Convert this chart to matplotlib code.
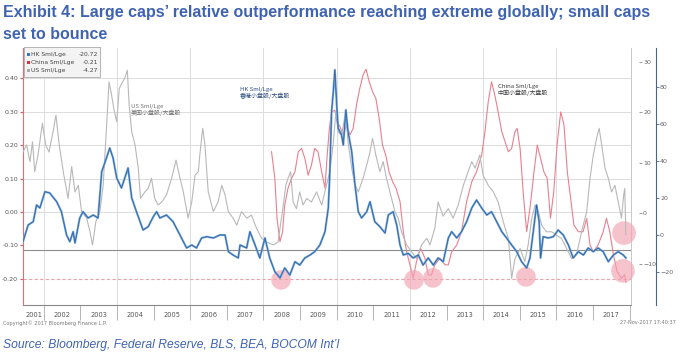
import matplotlib
matplotlib.use("Agg")
import matplotlib.pyplot as plt
from matplotlib.patches import Rectangle
from matplotlib.ticker import FormatStrFormatter

# HK small/large (right outer axis)
hk_t = [2001.43, 2001.57, 2001.71, 2001.80, 2001.89, 2002.03, 2002.16, 2002.25, 2002.35, 2002.48,
        2002.62, 2002.71, 2002.80, 2002.85, 2002.98, 2003.07, 2003.21, 2003.35, 2003.48, 2003.58,
        2003.71, 2003.80, 2003.89, 2003.99, 2004.12, 2004.21, 2004.30, 2004.40, 2004.53, 2004.71,
        2004.85, 2004.99, 2005.08, 2005.17, 2005.35, 2005.53, 2005.67, 2005.81, 2005.90, 2006.04,
        2006.17, 2006.31, 2006.45, 2006.63, 2006.81, 2006.95, 2007.04, 2007.17, 2007.31, 2007.36,
        2007.54, 2007.63, 2007.77, 2007.90, 2008.04, 2008.17, 2008.31, 2008.45, 2008.58, 2008.72,
        2008.86, 2008.99, 2009.13, 2009.27, 2009.40, 2009.54, 2009.68, 2009.77, 2009.81, 2009.86,
        2009.90, 2009.95, 2010.00, 2010.04, 2010.13, 2010.18, 2010.25, 2010.31, 2010.41, 2010.50,
        2010.59, 2010.68, 2010.82, 2010.91, 2011.04, 2011.18, 2011.32, 2011.41, 2011.54, 2011.64,
        2011.73, 2011.82, 2011.95, 2012.09, 2012.23, 2012.36, 2012.50, 2012.64, 2012.77, 2012.91,
        2013.05, 2013.14, 2013.28, 2013.41, 2013.55, 2013.69, 2013.82, 2013.96, 2014.10, 2014.23,
        2014.37, 2014.51, 2014.64, 2014.78, 2014.92, 2015.05, 2015.19, 2015.28, 2015.37, 2015.46,
        2015.53, 2015.57, 2015.64, 2015.78, 2015.92, 2016.05, 2016.19, 2016.33, 2016.46, 2016.60,
        2016.74, 2016.87, 2017.01, 2017.14, 2017.28, 2017.42, 2017.56, 2017.69, 2017.83, 2017.90]
hk_v = [-3.6, 5.4, 7.2, 16.2, 14.6, 23.4, 22.7, 20.5, 18.0, 12.6,
        0.0, -3.6, 1.8, -4.3, 9.2, 12.6, 9.2, 10.8, 9.2, 34.2,
        41.6, 47.0, 41.6, 30.8, 25.4, 30.8, 36.2, 20.0, 12.6, 2.7,
        4.5, 9.9, 12.6, 9.2, 10.8, 7.2, 1.8, -3.6, -7.0, -5.4,
        -7.0, -1.6, -0.9, -1.6, 0.0, 0.0, -9.0, -10.8, -12.4, -5.4,
        -7.0, 1.8, -5.4, -12.4, -1.6, -12.4, -19.8, -23.2, -17.8, -21.6,
        -14.4, -16.2, -12.4, -10.8, -9.0, -5.4, 1.8, 14.6, 32.4, 66.6,
        75.7, 89.2, 70.3, 57.7, 54.1, 48.6, 67.6, 55.8, 45.0, 27.0,
        12.6, 9.2, 12.6, 18.0, 7.2, 4.5, 1.1, 10.8, 12.6, 5.4,
        -5.4, -10.8, -9.9, -12.4, -10.8, -16.2, -12.4, -16.2, -12.4, -14.4,
        -1.6, 1.8, -1.6, 1.8, 7.2, 14.6, 18.9, 14.6, 10.8, 12.6,
        7.2, 1.8, -1.6, -5.4, -9.0, -14.4, -17.8, -12.4, 1.8, 16.2,
        7.2, -12.4, -0.9, -1.6, -0.9, 2.7, 0.0, -5.4, -12.4, -9.0,
        -10.8, -7.0, -9.0, -7.0, -9.0, -14.4, -10.8, -9.0, -10.8, -12.4]

# China small/large (left axis)
cn_t = [2008.22, 2008.31, 2008.37, 2008.45, 2008.52, 2008.58, 2008.67, 2008.77, 2008.86, 2008.95,
        2009.04, 2009.13, 2009.22, 2009.31, 2009.40, 2009.49, 2009.59, 2009.68, 2009.74, 2009.80,
        2009.86, 2009.95, 2010.01, 2010.09, 2010.18, 2010.27, 2010.36, 2010.45, 2010.54, 2010.63,
        2010.72, 2010.80, 2010.89, 2010.98, 2011.07, 2011.16, 2011.25, 2011.34, 2011.43, 2011.53,
        2011.62, 2011.73, 2011.82, 2011.91, 2012.00, 2012.09, 2012.18, 2012.29, 2012.41, 2012.50,
        2012.59, 2012.68, 2012.82, 2012.96, 2013.05, 2013.14, 2013.28, 2013.41, 2013.55, 2013.69,
        2013.82, 2013.96, 2014.05, 2014.14, 2014.23, 2014.32, 2014.41, 2014.51, 2014.60, 2014.69,
        2014.78, 2014.87, 2014.93, 2015.01, 2015.10, 2015.19, 2015.28, 2015.39, 2015.48, 2015.57,
        2015.66, 2015.75, 2015.84, 2015.93, 2016.02, 2016.12, 2016.21, 2016.30, 2016.39, 2016.48,
        2016.60, 2016.73, 2016.83, 2016.92, 2017.01, 2017.14, 2017.28, 2017.37, 2017.46, 2017.56,
        2017.66, 2017.78, 2017.87, 2017.90]
cn_v = [0.180, 0.101, -0.019, -0.089, -0.059, 0.021, 0.071, 0.101, 0.120, 0.180,
        0.190, 0.160, 0.110, 0.140, 0.190, 0.180, 0.120, 0.071, 0.170, 0.250,
        0.299, 0.304, 0.270, 0.255, 0.230, 0.260, 0.230, 0.250, 0.319, 0.369,
        0.409, 0.427, 0.389, 0.359, 0.339, 0.280, 0.200, 0.170, 0.120, 0.090,
        0.071, 0.031, -0.059, -0.119, -0.158, -0.198, -0.148, -0.108, -0.138, -0.188,
        -0.188, -0.158, -0.138, -0.158, -0.158, -0.119, -0.099, -0.059, 0.031, 0.090,
        0.120, 0.170, 0.240, 0.329, 0.389, 0.349, 0.299, 0.240, 0.210, 0.180,
        0.190, 0.240, 0.250, 0.190, 0.051, -0.059, 0.011, 0.120, 0.200, 0.160,
        0.120, 0.101, -0.019, 0.061, 0.200, 0.299, 0.260, 0.120, 0.041, -0.039,
        -0.059, -0.059, -0.019, -0.099, -0.119, -0.099, -0.059, -0.019, -0.059, -0.128,
        -0.178, -0.198, -0.188, -0.210]

# US small/large (right inner axis)
us_t = [2001.43, 2001.53, 2001.62, 2001.69, 2001.75, 2001.84, 2001.96, 2002.05, 2002.14, 2002.25,
        2002.33, 2002.42, 2002.53, 2002.66, 2002.76, 2002.85, 2002.94, 2003.03, 2003.17, 2003.26,
        2003.33, 2003.42, 2003.53, 2003.62, 2003.71, 2003.78, 2003.85, 2003.91, 2003.99, 2004.06,
        2004.15, 2004.21, 2004.28, 2004.33, 2004.40, 2004.49, 2004.58, 2004.64, 2004.76, 2004.85,
        2004.94, 2005.03, 2005.12, 2005.22, 2005.35, 2005.49, 2005.61, 2005.72, 2005.81, 2005.94,
        2006.04, 2006.13, 2006.22, 2006.26, 2006.34, 2006.40, 2006.49, 2006.63, 2006.76, 2006.86,
        2006.95, 2007.04, 2007.17, 2007.27, 2007.40, 2007.54, 2007.67, 2007.81, 2007.95, 2008.08,
        2008.27, 2008.40, 2008.54, 2008.61, 2008.67, 2008.74, 2008.81, 2008.90, 2008.99, 2009.08,
        2009.18, 2009.31, 2009.45, 2009.59, 2009.72, 2009.81, 2009.90, 2009.98, 2010.04, 2010.13,
        2010.25, 2010.31, 2010.41, 2010.50, 2010.59, 2010.72, 2010.82, 2010.91, 2010.98, 2011.07,
        2011.18, 2011.27, 2011.36, 2011.50, 2011.59, 2011.68, 2011.77, 2011.91, 2012.05, 2012.18,
        2012.32, 2012.46, 2012.55, 2012.68, 2012.77, 2012.91, 2013.05, 2013.18, 2013.32, 2013.46,
        2013.59, 2013.69, 2013.78, 2013.91, 2014.00, 2014.14, 2014.28, 2014.41, 2014.55, 2014.69,
        2014.78, 2014.87, 2015.01, 2015.14, 2015.23, 2015.33, 2015.42, 2015.51, 2015.60, 2015.73,
        2015.87, 2016.01, 2016.14, 2016.28, 2016.42, 2016.55, 2016.69, 2016.83, 2016.92, 2017.01,
        2017.10, 2017.17, 2017.24, 2017.33, 2017.42, 2017.51, 2017.60, 2017.69, 2017.78, 2017.84,
        2017.87, 2017.90]
us_v = [12.1, 13.5, 10.2, 14.1, 8.2, 11.5, 17.8, 13.5, 12.1, 16.1,
        19.4, 13.5, 8.2, 2.9, 9.2, 4.2, 5.5, 0.3, -1.0, -3.7,
        -6.3, -1.7, 0.3, 5.5, 16.8, 26.0, 23.4, 20.7, 18.1, 24.7,
        26.0, 26.7, 28.3, 21.4, 16.1, 13.5, 8.9, 2.9, 4.2, 4.9,
        6.9, 2.9, 1.6, 2.2, 3.6, 6.9, 10.5, 6.9, 4.2, -1.0,
        2.2, 7.5, 8.2, 11.5, 16.8, 13.5, 4.2, 0.3, 2.2, 5.5,
        3.6, 0.3, -1.0, -2.4, 0.3, -1.0, -0.4, -3.0, -5.0, -5.7,
        -6.3, -5.7, 1.6, 5.5, 6.9, 8.2, 2.2, 0.9, 4.2, 1.6,
        2.9, 2.2, 4.2, 1.6, 5.5, 8.2, 13.5, 20.1, 16.1, 15.4,
        20.1, 14.1, 8.9, 5.5, 4.2, 6.9, 9.5, 12.1, 14.8, 11.5,
        8.2, 10.2, 6.9, 2.9, 0.3, -1.0, -3.7, -6.3, -7.7, -9.0,
        -6.3, -5.0, -6.3, -3.0, 2.2, -0.6, 0.9, -1.0, 1.6, 5.5,
        8.2, 10.2, 8.9, 11.5, 7.5, 5.5, 4.2, 2.2, -1.7, -5.0,
        -12.9, -9.0, -7.0, -9.6, -6.3, -1.0, 1.6, 0.3, -2.4, -3.7,
        -3.7, -4.4, -5.0, -7.0, -9.0, -8.3, -3.7, 0.3, 6.9, 11.5,
        14.8, 16.8, 13.5, 8.9, 6.9, 4.2, 5.5, 2.2, -1.0, 3.6,
        4.9, -4.3]

legend_names = ["HK Sml/Lge", "China Sml/Lge", "US Sml/Lge"]
legend_vals = [-20.72, -0.21, -4.27]

# highlighted lows (left axis units)
circle_t = [2008.48, 2012.11, 2012.63, 2015.17, 2017.85, 2017.82]
circle_v = [-0.203, -0.203, -0.197, -0.194, -0.063, -0.176]
circle_s = [200, 200, 200, 200, 290, 290]

year_labels = list(range(2001, 2018))
left_ticks = [-0.2, -0.1, 0.0, 0.1, 0.2, 0.3, 0.4]
us_ticks = [-10, 0, 10, 20, 30]
hk_ticks = [-20, 0, 20, 40, 60, 80]

cjk = ["Noto Sans CJK SC", "DejaVu Sans"]

C_BLUE = "#3e78c2"
C_RED = "#e8808e"
C_GRAY = "#b8b8b8"
C_HEAD = "#3f63b0"

fig = plt.figure(figsize=(6.8, 3.58), dpi=100)
ax = fig.add_axes((23 / 680, 53 / 358, 608 / 680, 257 / 358))
ax_us = ax.twinx()
ax_hk = ax.twinx()

ax.set_xlim(2001.43, 2018.04)
ax.set_ylim(-0.278, 0.49)
ax_us.set_ylim(-18.2, 32.7)
ax_hk.set_ylim(-37.8, 101)

# grid
for g in [0.0, 0.1, 0.2, 0.3, 0.4]:
    ax.axhline(g, color="#dcdcdc", lw=0.7, zorder=0)
for yr in range(2002, 2018, 2):
    ax.axvline(yr, color="#dcdcdc", lw=0.7, zorder=0)
ax.axhline(-0.115, color="#8c8c8c", lw=0.8, zorder=1)
ax.axhline(-0.2, color="#e9a3ad", lw=0.8, ls=(0, (3, 2)), zorder=1)

# series
ax_us.plot(us_t, us_v, color=C_GRAY, lw=0.8, zorder=2)
ax.plot(cn_t, cn_v, color=C_RED, lw=0.8, zorder=3)
ax_hk.plot(hk_t, hk_v, color="#6aa2dc", lw=1.5, zorder=4)
ax_hk.plot(hk_t, hk_v, color="#2c558c", lw=0.45, zorder=5)

ax.scatter(circle_t, circle_v, s=circle_s, color="#f2a3b3", alpha=0.65,
           edgecolors="none", zorder=6, clip_on=False)

# left axis
ax.set_yticks(left_ticks)
ax.yaxis.set_major_formatter(FormatStrFormatter("%.2f"))
ax.tick_params(axis="y", length=2, width=0.8, color="#e05a6a", pad=1.5,
               labelsize=4.5, labelcolor="#555555")
ax.spines["left"].set_color("#e46a78")
ax.spines["left"].set_linewidth(0.8)
ax.spines["top"].set_visible(False)
ax.spines["right"].set_color("#c8c8c8")
ax.spines["right"].set_linewidth(0.7)
ax.spines["bottom"].set_color("#888888")
ax.spines["bottom"].set_linewidth(0.8)

# bottom axis: year separators and centred labels
ax.set_xticks([yr for yr in range(2002, 2019)], minor=True)
ax.set_xticks([2001.72] + [yr + 0.5 for yr in year_labels[1:]])
ax.set_xticklabels([str(y) for y in year_labels])
ax.tick_params(axis="x", which="minor", length=11, width=0.6, color="#aaaaaa")
ax.tick_params(axis="x", which="major", length=0, pad=5, labelsize=4.8,
               labelcolor="#555555")

for a in (ax_us, ax_hk):
    for s in ("left", "top", "bottom"):
        a.spines[s].set_visible(False)

ax_us.spines["right"].set_position(("axes", 1.013))
ax_us.spines["right"].set_visible(False)
ax_us.set_yticks(us_ticks)
ax_us.tick_params(axis="y", length=2, width=0.6, color="#888888", pad=1,
                  labelsize=4.5, labelcolor="#666666")

ax_hk.spines["right"].set_position(("axes", 1.041))
ax_hk.spines["right"].set_color("#4a6486")
ax_hk.spines["right"].set_linewidth(0.8)
ax_hk.set_yticks(hk_ticks)
ax_hk.tick_params(axis="y", length=2, width=0.6, color="#4a6486", pad=1,
                  labelsize=4.5, labelcolor="#666666")

# legend box
ax.add_patch(Rectangle((0.002, 0.887), 0.125, 0.117, transform=ax.transAxes,
                       facecolor="#f3f3f3", edgecolor="#9a9a9a", lw=0.5,
                       clip_on=False, zorder=10))
for i, (nm, val, col) in enumerate(zip(legend_names, legend_vals, [C_BLUE, "#d8303f", "#aaaaaa"])):
    yy = 0.973 - i * 0.03
    ax.add_patch(Rectangle((0.006, yy - 0.006), 0.005, 0.012, transform=ax.transAxes,
                           facecolor=col, edgecolor="none", clip_on=False, zorder=11))
    ax.text(0.013, yy, nm, transform=ax.transAxes, fontsize=4.3, color="#444444",
            va="center", ha="left", zorder=11)
    ax.text(0.123, yy, f"{val:.2f}", transform=ax.transAxes, fontsize=4.3,
            color="#444444", va="center", ha="right", zorder=11)

# series annotations
ax.text(2004.38, 0.322, "US Sml/Lge\n美国小盘股/大盘股", fontsize=4.3, family=cjk,
        color="#707070", va="top", ha="left", linespacing=1.0)
ax.text(2007.35, 0.372, "HK Sml/Lge\n香港小盘股/大盘股", fontsize=4.3, family=cjk,
        color="#2b4c7e", va="top", ha="left", linespacing=1.0)
ax.text(2014.40, 0.381, "China Sml/Lge\n中国小盘股/大盘股", fontsize=4.3, family=cjk,
        color="#3a3a3a", va="top", ha="left", linespacing=1.0)

# header and footer
fig.text(3 / 680, 1 - 17 / 358, "Exhibit 4: Large caps\u2019 relative outperformance reaching extreme globally; small caps",
         fontsize=11.5, family="Liberation Sans", weight="bold", color=C_HEAD, va="baseline")
fig.text(3 / 680, 1 - 39 / 358, "set to bounce", fontsize=11.5, family="Liberation Sans",
         weight="bold", color=C_HEAD, va="baseline")
fig.text(3 / 680, 1 - 323 / 358, "Copyright\u00a9 2017 Bloomberg Finance L.P.", fontsize=3.6,
         color="#777777", va="center")
fig.text(676 / 680, 1 - 323 / 358, "27-Nov-2017 17:40:37", fontsize=3.6,
         color="#777777", va="center", ha="right")
fig.text(3 / 680, 1 - 348 / 358, "Source: Bloomberg, Federal Reserve, BLS, BEA, BOCOM Int\u2019l",
         fontsize=8.7, family="Liberation Sans", style="italic",
         color=C_HEAD, va="baseline")

fig.savefig("out.png", dpi=100, facecolor="white")
